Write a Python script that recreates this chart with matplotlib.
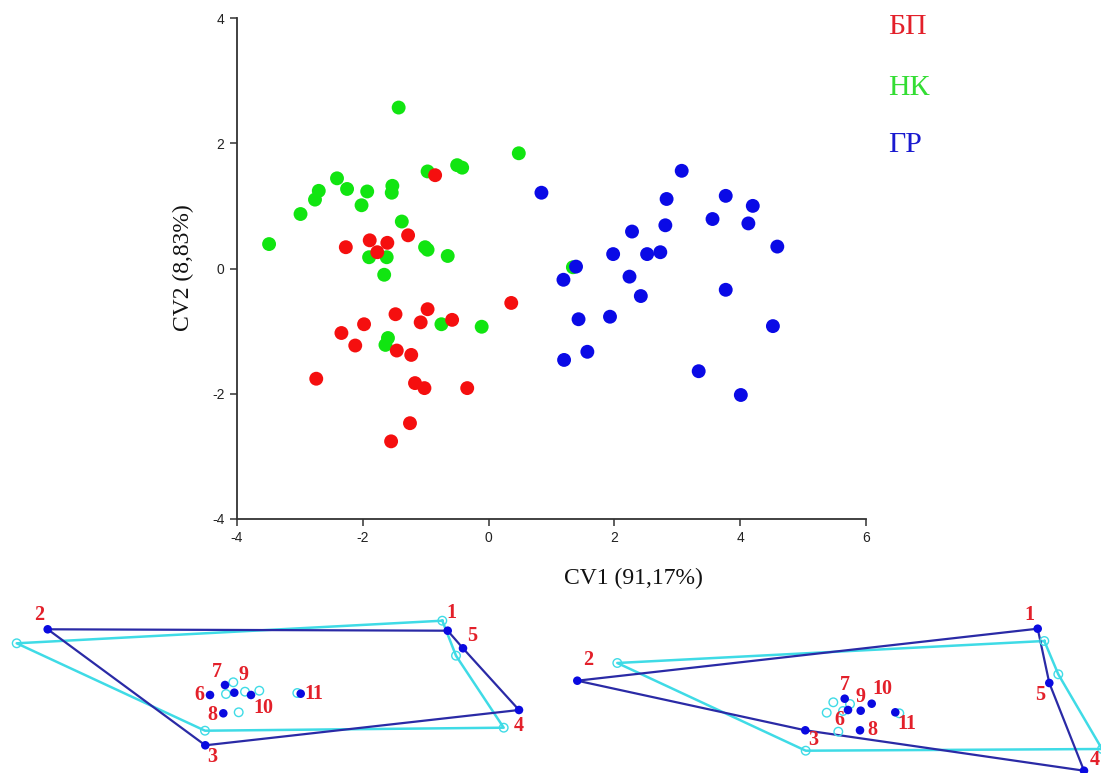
import numpy as np
import matplotlib
matplotlib.use("Agg")
import matplotlib.pyplot as plt

# CV scores
bp_x = [-0.85, -1.28, -2.27, -1.89, -1.61, -1.77, 0.36, -1.48, -0.97, -1.98, -1.08,
        -0.58, -2.34, -2.12, -1.46, -1.23, -2.74, -1.17, -1.02, -0.34, -1.25, -1.55]
bp_y = [1.49, 0.53, 0.34, 0.45, 0.41, 0.26, -0.55, -0.73, -0.65, -0.89, -0.86,
        -0.82, -1.03, -1.23, -1.31, -1.38, -1.76, -1.83, -1.91, -1.91, -2.47, -2.76]

nk_x = [-1.43, 0.48, -0.97, -0.50, -0.42, -2.41, -2.25, -2.70, -2.76, -1.93, -1.53,
        -1.54, -2.02, -2.99, -1.38, -3.49, -1.90, -1.62, -1.01, -0.97, -0.65, -1.66,
        1.34, -0.75, -0.11, -1.60, -1.64]
nk_y = [2.57, 1.84, 1.55, 1.65, 1.61, 1.44, 1.27, 1.24, 1.10, 1.23, 1.32,
        1.21, 1.01, 0.87, 0.75, 0.39, 0.18, 0.18, 0.34, 0.30, 0.20, -0.10,
        0.02, -0.89, -0.93, -1.11, -1.22]

gr_x = [0.84, 3.07, 2.83, 3.77, 4.20, 3.56, 4.13, 2.81, 2.28, 4.59, 1.98, 2.52, 2.73,
        1.39, 1.19, 2.24, 2.42, 3.77, 1.43, 1.93, 4.52, 1.20, 1.57, 3.34, 4.01]
gr_y = [1.21, 1.56, 1.11, 1.16, 1.00, 0.79, 0.72, 0.69, 0.59, 0.35, 0.23, 0.23, 0.26,
        0.03, -0.18, -0.13, -0.44, -0.34, -0.81, -0.77, -0.92, -1.46, -1.33, -1.64, -2.02]

groups = ["БП", "НК", "ГР"]
x_ticks = [-4, -2, 0, 2, 4, 6]
y_ticks = [-4, -2, 0, 2, 4]

# landmark configurations (landmarks 1..11), bottom strip units
lm_num = [str(i) for i in range(1, 12)]
left_dark_x = [447.7, 47.7, 205.3, 519.0, 463.0, 210.0, 225.0, 223.3, 234.3, 251.0, 300.7]
left_dark_y = [142.3, 143.7, 27.7, 63.0, 124.7, 78.0, 88.0, 59.7, 80.3, 78.0, 79.3]
left_cyan_x = [442.3, 16.7, 205.0, 503.7, 456.0, 226.0, 233.3, 238.7, 245.0, 259.3, 297.3]
left_cyan_y = [152.3, 129.7, 42.3, 45.3, 117.3, 79.0, 90.7, 60.7, 81.3, 82.3, 80.0]

right_dark_x = [1037.7, 577.3, 805.3, 1084.0, 1049.3, 848.0, 844.7, 860.0, 860.7, 871.7, 895.3]
right_dark_y = [144.3, 92.3, 42.7, 2.3, 90.0, 63.0, 74.3, 42.7, 62.3, 69.3, 60.7]
right_cyan_x = [1044.3, 617.3, 805.7, 1102.0, 1058.3, 826.7, 833.3, 838.3, 843.0, 850.0, 899.3]
right_cyan_y = [132.0, 110.0, 22.3, 24.0, 98.7, 60.3, 70.7, 41.3, 62.0, 69.0, 59.7]

# label offsets from the dark landmark
left_off = [(4, 18), (-9, 14), (7, -12), (0, -16), (9, 12), (-11, 0), (-8, 13),
            (-11, -2), (9, 18), (12, -13), (13, 0)]
right_off = [(-8, 14), (11, 21), (8, -10), (11, 11), (-9, -12), (-9, -10), (0, 14),
             (12, 0), (0, 14), (11, 15), (12, -12)]

W, H = 1101, 773
fig = plt.figure(figsize=(W / 100, H / 100), dpi=100)

ax = fig.add_axes([237 / W, 1 - 519 / H, (866 - 237) / W, (519 - 18) / H])
ax.scatter(nk_x, nk_y, s=100, color="#11e511", edgecolors="none", zorder=3)
ax.scatter(bp_x, bp_y, s=100, color="#f50f0f", edgecolors="none", zorder=3)
ax.scatter(gr_x, gr_y, s=100, color="#0a0ae6", edgecolors="none", zorder=3)
ax.set_xlim(-4, 6)
ax.set_ylim(-4, 4)
ax.set_xticks(x_ticks)
ax.set_yticks(y_ticks)
ax.set_xticklabels([str(v) for v in x_ticks], family="Liberation Sans", fontsize=10, color="#222222")
ax.set_yticklabels([str(v) for v in y_ticks], family="Liberation Sans", fontsize=10, color="#222222")
ax.tick_params(direction="out", length=5, width=1.1, color="#333333", pad=4)
for s in ["top", "right"]:
    ax.spines[s].set_visible(False)
for s in ["left", "bottom"]:
    ax.spines[s].set_color("#333333")
    ax.spines[s].set_linewidth(1.3)
ax.patch.set_alpha(0)

fig.text(633 / W, 1 - 578 / H, "CV1 (91,17%)", family="Liberation Serif", fontsize=17,
         ha="center", va="center", color="#111111")
fig.text(183 / W, 1 - 268 / H, "CV2 (8,83%)", family="Liberation Serif", fontsize=17,
         ha="center", va="center", rotation=90, color="#111111")

leg_colors = ["#e3202a", "#33dd33", "#1a1ad0"]
leg_y = [27, 88, 145]
for g, c, yy in zip(groups, leg_colors, leg_y):
    fig.text(888 / W, 1 - yy / H, g, family="Liberation Serif", fontsize=21.5,
             ha="left", va="center", color=c)

# landmark wireframes
axb = fig.add_axes([0, 0, 1, 200 / H])
axb.set_xlim(0, W)
axb.set_ylim(0, 200)
axb.axis("off")
order = [0, 4, 3, 2, 1, 0]
cyan = "#3fdbe6"
navy = "#2a2aa6"
for cx, cy, dx, dy, offs in [(left_cyan_x, left_cyan_y, left_dark_x, left_dark_y, left_off),
                             (right_cyan_x, right_cyan_y, right_dark_x, right_dark_y, right_off)]:
    cx, cy, dx, dy = map(np.array, (cx, cy, dx, dy))
    axb.plot(cx[order], cy[order], color=cyan, lw=1.8, zorder=2)
    axb.plot(dx[order], dy[order], color=navy, lw=1.6, zorder=3)
    axb.scatter(cx, cy, s=38, facecolors="none", edgecolors=cyan, linewidths=1.0, zorder=4)
    axb.scatter(dx, dy, s=38, color="#0a0ae0", edgecolors="none", zorder=5)
    for i in range(len(dx)):
        axb.text(dx[i] + offs[i][0], dy[i] + offs[i][1], lm_num[i], family="Liberation Serif",
                 fontsize=14.5, fontweight="bold", color="#e3202a", ha="center", va="center",
                 zorder=6)

fig.savefig("out.png", dpi=100)
